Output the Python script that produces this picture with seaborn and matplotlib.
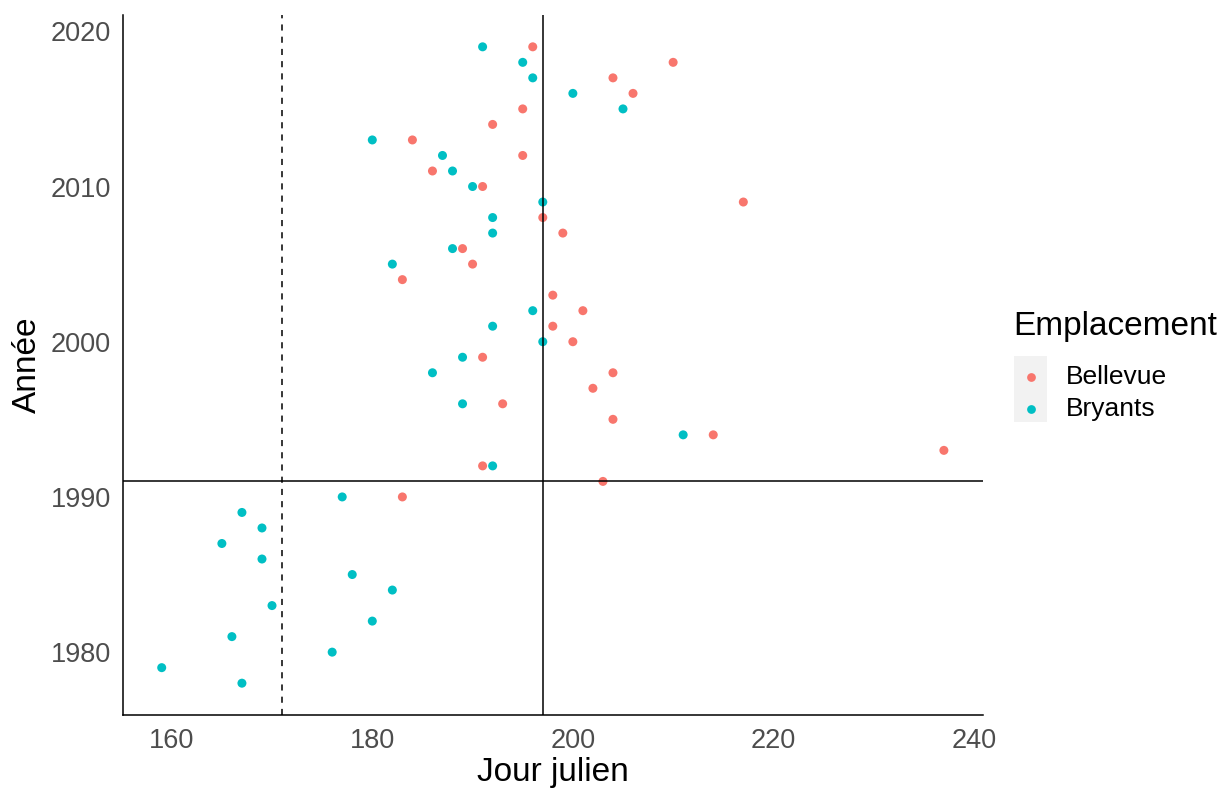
import matplotlib
matplotlib.use("Agg")
import matplotlib.pyplot as plt
import seaborn as sns
import pandas as pd
from matplotlib.lines import Line2D
from matplotlib.patches import Rectangle

# ---- data ----
years_bellevue = [2019, 2018, 2017, 2016, 2015, 2014, 2013, 2012, 2011, 2010,
                  2009, 2008, 2007, 2006, 2005, 2004, 2003, 2002, 2001, 2000,
                  1999, 1998, 1997, 1996, 1995, 1994, 1993, 1992, 1991, 1990]
days_bellevue = [196, 210, 204, 206, 195, 192, 184, 195, 186, 191,
                 217, 197, 199, 189, 190, 183, 198, 201, 198, 200,
                 191, 204, 202, 193, 204, 214, 237, 191, 203, 183]

years_bryants = [2019, 2018, 2017, 2016, 2015, 2013, 2012, 2011, 2010, 2009,
                 2008, 2007, 2006, 2005, 2002, 2001, 2000, 1999, 1998, 1996,
                 1994, 1992, 1990, 1989, 1988, 1987, 1986, 1985, 1984, 1983,
                 1982, 1981, 1980, 1979, 1978]
days_bryants = [191, 195, 196, 200, 205, 180, 187, 188, 190, 197,
                192, 192, 188, 182, 196, 192, 197, 189, 186, 189,
                211, 192, 177, 167, 169, 165, 169, 178, 182, 170,
                180, 166, 176, 159, 167]

sites = ["Bellevue", "Bryants"]
colors = ["#F8766D", "#00BFC4"]

vline_dashed = 171
vline_solid = 197
hline_year = 1991

x_ticks = [160, 180, 200, 220, 240]
y_ticks = [1980, 1990, 2000, 2010, 2020]

df = pd.DataFrame({
    "Jour": days_bellevue + days_bryants,
    "Annee": years_bellevue + years_bryants,
    "Emplacement": [sites[0]] * len(days_bellevue) + [sites[1]] * len(days_bryants),
})

# ---- style ----
sns.set_style("white")
plt.rcParams["font.family"] = ["Liberation Sans", "DejaVu Sans"]

W, H = 1230, 789
fig = plt.figure(figsize=(W / 100, H / 100), dpi=100)
ax = fig.add_axes([122.6 / W, 1 - 715 / H, (983 - 122.6) / W, (715 - 15) / H])

sns.scatterplot(data=df, x="Jour", y="Annee", hue="Emplacement",
                palette=dict(zip(sites, colors)), s=42, linewidth=0,
                legend=False, ax=ax, zorder=2)

ax.axvline(vline_dashed, color="black", lw=1.1, ls=(0, (4, 4)), zorder=3)
ax.axvline(vline_solid, color="black", lw=1.1, zorder=3)
ax.axhline(hline_year, color="black", lw=1.1, zorder=3)

xmin, xmax = min(df["Jour"]), max(df["Jour"])
ymin, ymax = min(df["Annee"]), max(df["Annee"])
xr, yr = xmax - xmin, ymax - ymin
ax.set_xlim(xmin - 0.05 * xr, xmax + 0.05 * xr)
ax.set_ylim(ymin - 0.05 * yr, ymax + 0.05 * yr)
ax.set_xticks(x_ticks)
ax.set_yticks(y_ticks)

for side in ["top", "right"]:
    ax.spines[side].set_visible(False)
for side in ["left", "bottom"]:
    ax.spines[side].set_color("black")
    ax.spines[side].set_linewidth(1.1)

ax.tick_params(axis="both", which="major", length=3.6, width=0.9,
               color="#333333", labelsize=19.5, labelcolor="#4D4D4D")
ax.tick_params(axis="x", pad=6)
ax.tick_params(axis="y", pad=5)
ax.set_xlabel("Jour julien", fontsize=24, color="black", labelpad=2)
ax.set_ylabel("Année", fontsize=24, color="black", labelpad=5)
ax.grid(False)

# ---- legend (ggplot style) ----
def fx(px):
    return px / W

def fy(py):
    return 1 - py / H

fig.text(fx(1013), fy(327), "Emplacement", fontsize=24, va="center", ha="left",
         color="black")
fig.patches.append(Rectangle((fx(1014), fy(422)), fx(33), 66 / H,
                             transform=fig.transFigure, facecolor="#F2F2F2",
                             edgecolor="none", zorder=1))
for i, (name, col) in enumerate(zip(sites, colors)):
    yy = 377 + 32 * i
    fig.lines.append(Line2D([fx(1030.5)], [fy(yy)], marker="o", markersize=6.3,
                            markerfacecolor=col, markeredgewidth=0,
                            linestyle="none", transform=fig.transFigure))
    fig.text(fx(1066), fy(yy), name, fontsize=19, va="center", ha="left",
             color="black")

fig.savefig("out.png", dpi=100, facecolor="white")
